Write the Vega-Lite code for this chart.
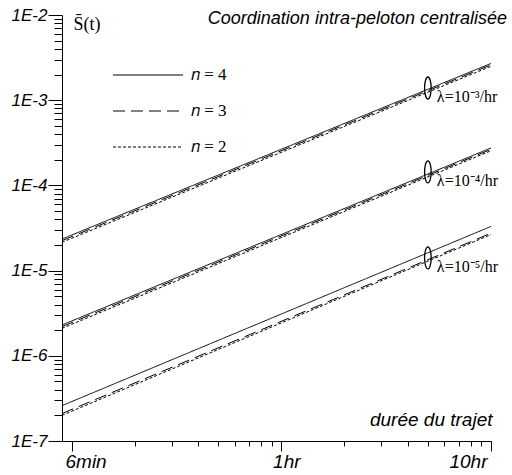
{
  "$schema": "https://vega.github.io/schema/vega-lite/v6.json",
  "width": 429,
  "height": 426,
  "autosize": {"type": "none"},
  "padding": {"left": 62, "top": 15, "right": 21, "bottom": 34},
  "background": "white",
  "config": {
    "view": {"stroke": null},
    "axis": {"grid": false, "domainColor": "black", "tickColor": "black", "labelColor": "black", "titleColor": "black", "domainWidth": 1, "tickWidth": 1}
  },
  "title": {
    "text": "Coordination intra-peloton centralisée",
    "anchor": "end",
    "frame": "group",
    "font": "Liberation Sans",
    "fontSize": 18,
    "fontStyle": "italic",
    "fontWeight": "normal",
    "color": "black",
    "baseline": "middle",
    "offset": -3,
    "dx": 16,
    "dy": 28
  },
  "datasets": {
    "lines": [
      {"lambda": "1e-3", "n": "𝑛 = 4", "t": 0.09, "s": 2.35e-5},
      {"lambda": "1e-3", "n": "𝑛 = 4", "t": 10, "s": 2.7e-3},
      {"lambda": "1e-3", "n": "𝑛 = 3", "t": 0.09, "s": 2.25e-5},
      {"lambda": "1e-3", "n": "𝑛 = 3", "t": 10, "s": 2.6e-3},
      {"lambda": "1e-3", "n": "𝑛 = 2", "t": 0.09, "s": 2.15e-5},
      {"lambda": "1e-3", "n": "𝑛 = 2", "t": 10, "s": 2.5e-3},
      {"lambda": "1e-4", "n": "𝑛 = 4", "t": 0.09, "s": 2.3e-6},
      {"lambda": "1e-4", "n": "𝑛 = 4", "t": 10, "s": 2.75e-4},
      {"lambda": "1e-4", "n": "𝑛 = 3", "t": 0.09, "s": 2.2e-6},
      {"lambda": "1e-4", "n": "𝑛 = 3", "t": 10, "s": 2.65e-4},
      {"lambda": "1e-4", "n": "𝑛 = 2", "t": 0.09, "s": 2.1e-6},
      {"lambda": "1e-4", "n": "𝑛 = 2", "t": 10, "s": 2.55e-4},
      {"lambda": "1e-5", "n": "𝑛 = 4", "t": 0.09, "s": 2.6e-7},
      {"lambda": "1e-5", "n": "𝑛 = 4", "t": 10, "s": 3.3e-5},
      {"lambda": "1e-5", "n": "𝑛 = 3", "t": 0.09, "s": 2.1e-7},
      {"lambda": "1e-5", "n": "𝑛 = 3", "t": 10, "s": 2.75e-5},
      {"lambda": "1e-5", "n": "𝑛 = 2", "t": 0.09, "s": 2.0e-7},
      {"lambda": "1e-5", "n": "𝑛 = 2", "t": 10, "s": 2.65e-5}
    ],
    "marks": [
      {"t": 5, "s": 1.39e-3, "label": "λ=10⁻³/hr"},
      {"t": 5, "s": 1.44e-4, "label": "λ=10⁻⁴/hr"},
      {"t": 5, "s": 1.41e-5, "label": "λ=10⁻⁵/hr"}
    ]
  },
  "encoding": {
    "x": {
      "field": "t",
      "type": "quantitative",
      "scale": {"type": "log", "domain": [0.09, 10], "nice": false},
      "axis": {
        "orient": "bottom",
        "values": [0.1, 0.2, 0.3, 0.4, 0.5, 0.6, 0.7, 0.8, 0.9, 1, 2, 3, 4, 5, 6, 7, 8, 9, 10],
        "labelExpr": "datum.value == 0.1 ? '6min' : datum.value == 1 ? '1hr' : datum.value == 10 ? '10hr' : ''",
        "tickSize": {"condition": {"test": "datum.value == 0.1 || datum.value == 1 || datum.value == 10", "value": 10}, "value": 5},
        "labelPadding": 1,
        "labelOverlap": false,
        "labelFont": "Liberation Sans",
        "labelFontSize": 19,
        "labelFontStyle": "italic",
        "labelOffset": {"condition": [{"test": "datum.value == 0.1", "value": 14}, {"test": "datum.value == 10", "value": -4}], "value": 5},
        "title": "durée du trajet",
        "titleX": 430,
        "titleY": -16,
        "titleAlign": "right",
        "titleBaseline": "alphabetic",
        "titleFont": "Liberation Sans",
        "titleFontSize": 19,
        "titleFontStyle": "italic",
        "titleFontWeight": "normal"
      }
    },
    "y": {
      "field": "s",
      "type": "quantitative",
      "scale": {"type": "log", "domain": [1e-7, 1e-2], "nice": false},
      "axis": {
        "orient": "left",
        "values": [1e-7, 2e-7, 3e-7, 4e-7, 5e-7, 6e-7, 7e-7, 8e-7, 9e-7, 1e-6, 2e-6, 3e-6, 4e-6, 5e-6, 6e-6, 7e-6, 8e-6, 9e-6, 1e-5, 2e-5, 3e-5, 4e-5, 5e-5, 6e-5, 7e-5, 8e-5, 9e-5, 1e-4, 2e-4, 3e-4, 4e-4, 5e-4, 6e-4, 7e-4, 8e-4, 9e-4, 1e-3, 2e-3, 3e-3, 4e-3, 5e-3, 6e-3, 7e-3, 8e-3, 9e-3, 1e-2],
        "labelExpr": "abs(log(datum.value)/LN10 - round(log(datum.value)/LN10)) < 0.001 ? '1E' + round(log(datum.value)/LN10) : ''",
        "tickSize": {"condition": {"test": "abs(log(datum.value)/LN10 - round(log(datum.value)/LN10)) < 0.001", "value": 14}, "value": 8},
        "labelPadding": 1,
        "labelOverlap": false,
        "labelFont": "Liberation Sans",
        "labelFontSize": 17,
        "labelFontStyle": "italic",
        "title": "S̄(t)",
        "titleAngle": 0,
        "titleX": 11,
        "titleY": 14,
        "titleAlign": "left",
        "titleBaseline": "alphabetic",
        "titleFont": "Liberation Serif",
        "titleFontSize": 18,
        "titleFontWeight": "normal"
      }
    }
  },
  "layer": [
    {
      "data": {"name": "lines"},
      "mark": {"type": "line", "color": "black", "strokeWidth": 1},
      "encoding": {
        "detail": {"field": "lambda"},
        "strokeDash": {
          "field": "n",
          "type": "nominal",
          "scale": {"domain": ["𝑛 = 4", "𝑛 = 3", "𝑛 = 2"], "range": [[1, 0], [12, 6], [3, 2]]},
          "legend": {
            "orient": "none",
            "legendX": 68,
            "legendY": 42,
            "title": null,
            "symbolType": "M-2,0H2",
            "symbolSize": 1225,
            "symbolStrokeWidth": 1,
            "symbolStrokeColor": "black",
            "labelFont": "Liberation Serif",
            "labelFontSize": 17,
            "labelColor": "black",
            "labelOffset": 25,
            "rowPadding": 10
          }
        }
      }
    },
    {
      "data": {"name": "marks"},
      "mark": {"type": "point", "shape": "M0,-1A0.3,1 0 1,1 0,1A0.3,1 0 1,1 0,-1Z", "filled": false, "stroke": "black", "strokeWidth": 1.3, "size": 484, "opacity": 1}
    },
    {
      "data": {"name": "marks"},
      "mark": {"type": "text", "align": "left", "baseline": "alphabetic", "dx": 9, "dy": 14, "font": "Liberation Serif", "fontSize": 16, "color": "black"},
      "encoding": {"text": {"field": "label"}}
    }
  ]
}
